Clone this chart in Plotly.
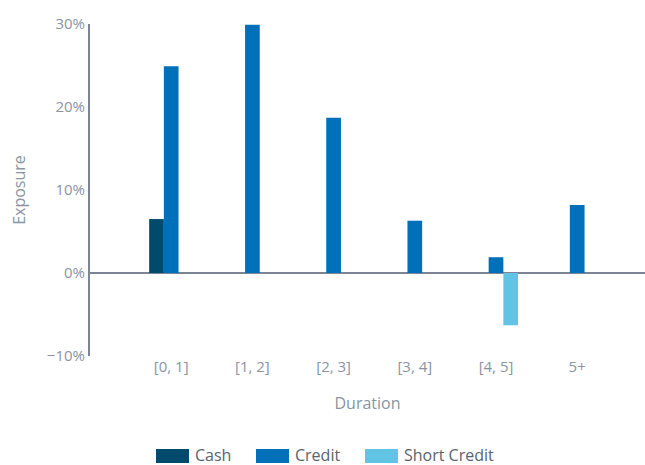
import plotly.graph_objects as go

categories = ["[0, 1]", "[1, 2]", "[2, 3]", "[3, 4]", "[4, 5]", "5+"]
cash = [6.5, None, None, None, None, None]
credit = [24.9, 29.9, 18.7, 6.3, 1.9, 8.2]
short_credit = [None, None, None, None, -6.3, None]

series_names = ["Cash", "Credit", "Short Credit"]
colors = ["#004A6B", "#0070BB", "#62C4E4"]

text_color = "#8A94A3"
legend_text_color = "#59636F"
axis_color = "#7B8594"
font_family = "'Open Sans', Lato, sans-serif"

W, H = 645, 465
ML, MR, MT, MB = 90, 0, 24, 109
PW, PH = W - ML - MR, H - MT - MB


def px_x(p):
    return (p - ML) / PW


def px_y(p):
    return (H - MB - p) / PH


fig = go.Figure()
for name, vals, col in zip(series_names, [cash, credit, short_credit], colors):
    fig.add_trace(go.Bar(
        x=categories, y=vals, name=name, marker_color=col,
        marker_line_width=0, showlegend=False,
        hovertemplate="%{x}: %{y}%<extra>" + name + "</extra>",
    ))

# custom legend (wide swatches like the reference)
legend_swatch_left = [156, 256, 365]
legend_swatch_w = 33
legend_top, legend_bottom = 449, 463
shapes, annotations = [], []
for name, col, left in zip(series_names, colors, legend_swatch_left):
    shapes.append(dict(
        type="rect", xref="paper", yref="paper",
        x0=px_x(left), x1=px_x(left + legend_swatch_w),
        y0=px_y(legend_bottom), y1=px_y(legend_top),
        fillcolor=col, line_width=0,
    ))
    annotations.append(dict(
        xref="paper", yref="paper", x=px_x(left + legend_swatch_w + 5),
        y=px_y((legend_top + legend_bottom) / 2 - 1),
        xanchor="left", yanchor="middle", showarrow=False,
        height=18, valign="middle", borderpad=0,
        text=name, font=dict(size=16, color=legend_text_color),
    ))

fig.update_layout(
    width=W, height=H,
    margin=dict(l=ML, r=MR, t=MT, b=MB),
    paper_bgcolor="white", plot_bgcolor="white",
    barmode="group", bargap=0.457, bargroupgap=0,
    font=dict(family=font_family, size=15, color=text_color),
    showlegend=False,
    shapes=shapes, annotations=annotations,
)

fig.update_xaxes(
    type="category",
    range=[-1.0, 5.835],
    showline=False, showgrid=False, zeroline=False, ticks="",
    tickfont=dict(size=15, color=text_color),
    title=dict(text="Duration", standoff=22, font=dict(size=16, color=text_color)),
)
fig.update_yaxes(
    range=[-10, 30], dtick=10, ticksuffix="%",
    showline=True, linecolor=axis_color, linewidth=2,
    zeroline=True, zerolinecolor=axis_color, zerolinewidth=2,
    showgrid=False, ticks="",
    tickfont=dict(size=15, color=text_color),
    title=dict(text="Exposure", standoff=17, font=dict(size=16, color=text_color)),
)

fig.write_html(
    "out.html",
    config={"displayModeBar": False},
    post_script="document.body.style.margin='0';document.body.style.overflow='hidden';",
)
